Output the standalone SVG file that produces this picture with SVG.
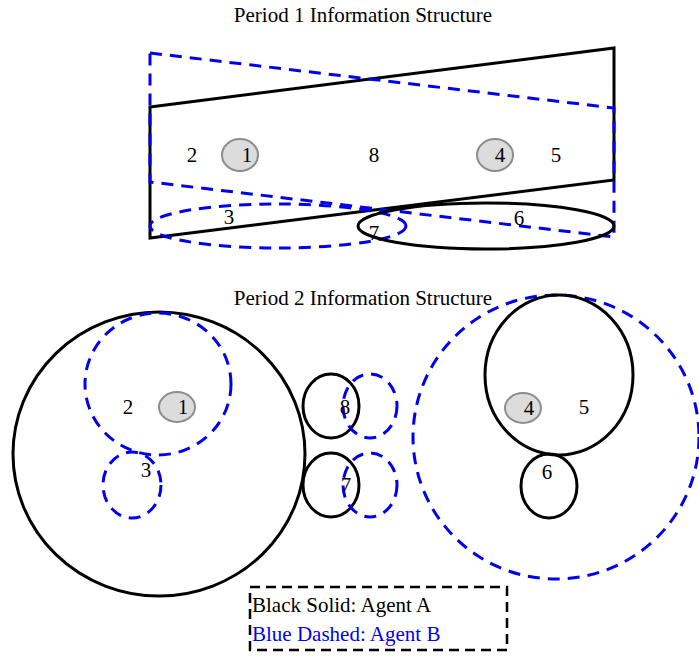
<svg xmlns="http://www.w3.org/2000/svg" width="699" height="656" viewBox="0 0 699 656">
<style>
text{font-family:"Liberation Serif","Times New Roman",serif;font-size:21px;fill:#000;text-anchor:middle;dominant-baseline:central}
.a{fill:none;stroke:#000;stroke-width:3}
.b{fill:none;stroke:#0000ee;stroke-width:3;stroke-dasharray:12 8}
.g{fill:#dcdcdc;stroke:#8c8c8c;stroke-width:2}
.l{text-anchor:start}
</style>
<rect width="699" height="656" fill="#fff"/>
<text x="363" y="15">Period 1 Information Structure</text>
<g id="p1-agentA-region">
<polygon class="a" points="150,107 614,48 614,180 150,238"/>
</g>
<g id="p1-agentB-region">
<polygon class="b" points="150,53 614,108 614,237 150,182"/>
</g>
<g id="p1-node3"><ellipse class="b" cx="278" cy="226" rx="128" ry="22"/></g>
<g id="p1-node6"><ellipse class="a" cx="486" cy="226" rx="128" ry="23"/></g>
<g id="p1-node1"><ellipse class="g" cx="240" cy="155" rx="18" ry="16"/><text x="247" y="155">1</text></g>
<g id="p1-node4"><ellipse class="g" cx="495" cy="155" rx="18" ry="16"/><text x="500" y="155">4</text></g>
<g id="p1-labels">
<text x="192" y="155">2</text>
<text x="374" y="155">8</text>
<text x="556" y="155">5</text>
<text x="229" y="217">3</text>
<text x="519" y="218">6</text>
<text x="374" y="233">7</text>
</g>

<text x="363" y="298">Period 2 Information Structure</text>
<g id="p2-left-A"><ellipse class="a" cx="159" cy="454" rx="146" ry="142"/></g>
<g id="p2-node2-B"><ellipse class="b" cx="158" cy="384" rx="73" ry="71"/></g>
<g id="p2-node3-B"><ellipse class="b" cx="132" cy="485" rx="29" ry="33"/></g>
<g id="p2-node1"><ellipse class="g" cx="177" cy="407" rx="18" ry="15"/><text x="183" y="407">1</text></g>
<g id="p2-left-labels"><text x="128" y="407">2</text><text x="146" y="470">3</text></g>
<g id="p2-node8"><ellipse class="a" cx="331" cy="406" rx="28" ry="32"/><ellipse class="b" cx="370" cy="406" rx="27" ry="32"/><text x="345" y="407">8</text></g>
<g id="p2-node7"><ellipse class="a" cx="331" cy="485" rx="28" ry="32"/><ellipse class="b" cx="370" cy="485" rx="27" ry="32"/><text x="346" y="485">7</text></g>
<g id="p2-right-B"><ellipse class="b" cx="556" cy="437" rx="143" ry="142"/></g>
<g id="p2-node5-A"><ellipse class="a" cx="559" cy="375" rx="74" ry="80"/><text x="584" y="407">5</text></g>
<g id="p2-node6-A"><ellipse class="a" cx="549" cy="486" rx="28" ry="32"/><text x="547" y="472">6</text></g>
<g id="p2-node4"><ellipse class="g" cx="523" cy="408" rx="18" ry="15"/><text x="529" y="408">4</text></g>
<g id="connectors"></g>
<g id="legend">
<rect x="250" y="587" width="257" height="63" fill="none" stroke="#000" stroke-width="2.5" stroke-dasharray="10 6"/>
<text x="252" y="605" class="l">Black Solid: Agent A</text>
<text x="252" y="634" class="l" style="fill:#0000ee">Blue Dashed: Agent B</text>
</g>
</svg>
